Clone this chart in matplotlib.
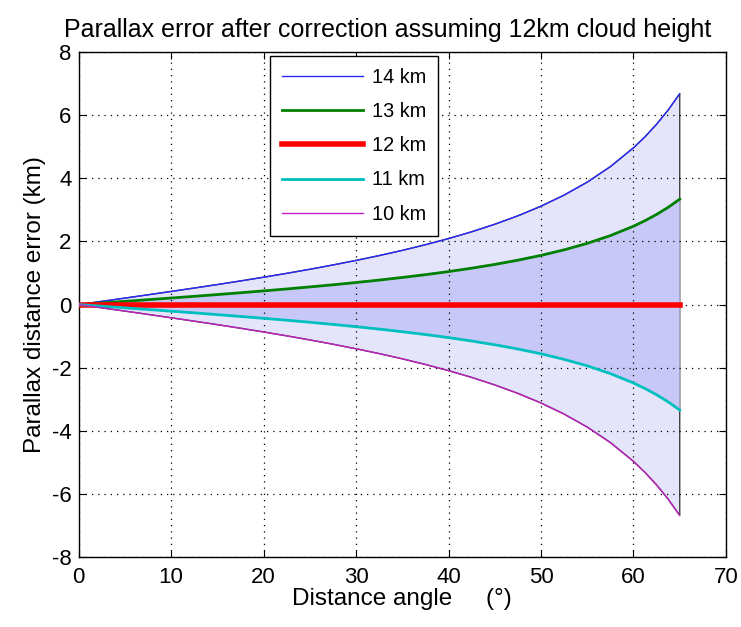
import matplotlib
matplotlib.use("Agg")
import matplotlib.pyplot as plt
import numpy as np

plt.rcParams["font.family"] = ["Liberation Sans", "DejaVu Sans"]
plt.rcParams["axes.unicode_minus"] = False

# Distance angle (deg) and parallax error (km)
angle = [0, 2.5, 5, 7.5, 10, 12.5, 15, 17.5, 20, 22.5, 25, 27.5, 30, 32.5, 35, 37.5,
         40, 42.5, 45, 47.5, 50, 52.5, 55, 57.5, 60, 61.25, 62.5, 63.75, 65]
err_14 = [0, 0.103, 0.206, 0.311, 0.417, 0.525, 0.635, 0.749, 0.867, 0.990, 1.119, 1.255,
          1.399, 1.552, 1.717, 1.896, 2.091, 2.305, 2.544, 2.811, 3.116, 3.467, 3.878,
          4.368, 4.964, 5.315, 5.711, 6.160, 6.676]
err_13 = [0, 0.051, 0.103, 0.155, 0.208, 0.262, 0.318, 0.375, 0.434, 0.495, 0.560, 0.627,
          0.699, 0.776, 0.859, 0.948, 1.045, 1.153, 1.272, 1.406, 1.558, 1.734, 1.939,
          2.184, 2.482, 2.658, 2.855, 3.080, 3.338]
err_12 = [0] * len(angle)
err_11 = [-v for v in err_13]
err_10 = [-v for v in err_14]

labels = ["14 km", "13 km", "12 km", "11 km", "10 km"]
colors = ["#2a2aff", "#008000", "#ff0000", "#00bfbf", "#c020c0"]
widths = [1.0, 2.0, 4.0, 2.0, 1.0]

fig = plt.figure(figsize=(7.41, 6.27), dpi=100)
ax = fig.add_axes([0.1062, 0.1112, 0.8735, 0.806])

# shaded envelopes (outer 10-14 km, inner 11-13 km)
x = np.array(angle)
ax.fill(np.concatenate([x, x[::-1]]), np.concatenate([err_14, err_10[::-1]]),
        facecolor="#e4e4fa", edgecolor="#404040", linewidth=1.0, zorder=1)
ax.fill(np.concatenate([x, x[::-1]]), np.concatenate([err_13, err_11[::-1]]),
        facecolor="#c8c8f8", edgecolor="none", zorder=1.5)

for y, lab, c, lw in zip([err_14, err_13, err_12, err_11, err_10], labels, colors, widths):
    ax.plot(angle, y, color=c, linewidth=lw, label=lab, zorder=3)

ax.set_xlim(0, 70)
ax.set_ylim(-8, 8)
ax.set_xticks(range(0, 71, 10))
ax.set_yticks(range(-8, 9, 2))
ax.grid(True, color="black", linestyle=(0, (1, 4)), linewidth=0.9)
ax.set_axisbelow(False)
ax.tick_params(direction="in", top=True, right=True, labelsize=16, length=5)
ax.tick_params(axis="x", pad=7)
ax.tick_params(axis="y", pad=5)
for sp in ax.spines.values():
    sp.set_linewidth(1.0)

ax.set_title("Parallax error after correction assuming 12km cloud height",
             fontsize=18, pad=11, x=0.478)
ax.set_xlabel("Distance angle     (°)", fontsize=17.5, labelpad=0)
ax.set_ylabel("Parallax distance error (km)", fontsize=17.5, labelpad=4)

leg = ax.legend(loc="upper left", bbox_to_anchor=(0.3644, 0.9107), bbox_transform=fig.transFigure,
                borderaxespad=0, fontsize=14.3, handlelength=4.1, handletextpad=0.45,
                labelspacing=0.765, borderpad=0.6, fancybox=False, framealpha=1,
                edgecolor="black")
leg.get_frame().set_linewidth(1.0)

fig.savefig("out.png", dpi=100, facecolor="white")
